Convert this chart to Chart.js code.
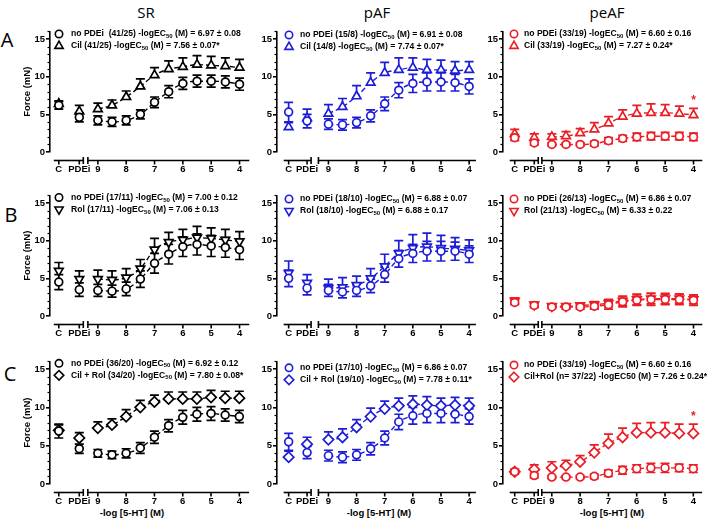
<!DOCTYPE html>
<html><head><meta charset="utf-8">
<script src="https://cdn.jsdelivr.net/npm/chart.js@4.4.1/dist/chart.umd.min.js"></script>
<style>
html,body{margin:0;padding:0;background:#fff}
body{width:709px;height:521px;position:relative;overflow:hidden;font-family:"Liberation Sans",Arial,sans-serif}
canvas{position:absolute}
.t{position:absolute;color:#000;white-space:nowrap;line-height:1;transform:translate(-50%,-50%)}
.h{font-family:"Open Sans","Liberation Sans",sans-serif;font-size:15px}
.r{font-family:"Open Sans","Liberation Sans",sans-serif;font-size:20px}
.xt{font-family:"Liberation Sans",Arial,sans-serif;font-size:9.5px;font-weight:bold}
</style></head><body>
<div class="t h" style="left:146px;top:12px">SR</div>
<div class="t h" style="left:377px;top:12px">pAF</div>
<div class="t h" style="left:607px;top:12px">peAF</div>
<div class="t r" style="left:7px;top:40px">A</div>
<div class="t r" style="left:11px;top:215px">B</div>
<div class="t r" style="left:10px;top:374px">C</div>
<div class="t xt" style="left:132px;top:513px">-log [5-HT] (M)</div>
<div class="t xt" style="left:379px;top:513px">-log [5-HT] (M)</div>
<div class="t xt" style="left:612px;top:513px">-log [5-HT] (M)</div>
<script>
// ---------- data ----------
const xTickLabels = ['C', 'PDEi', '9', '8', '7', '6', '5', '4'];
const logDoses = [9, 8.5, 8, 7.5, 7, 6.5, 6, 5.5, 5, 4.5, 4];
const majorDoses = [9, 8, 7, 6, 5, 4];
const yTicks = [0, 5, 10, 15];
// each series: [C, PDEi, 9, 8.5, 8, 7.5, 7, 6.5, 6, 5.5, 5, 4.5, 4]

// Row A (Cil)
const srA_none     = [6.2, 4.6, 4.2, 4.0, 4.2, 5.0, 6.6, 8.0, 9.1, 9.4, 9.4, 9.3, 9.0];
const srA_noneSem  = [0.5, 0.6, 0.6, 0.6, 0.6, 0.6, 0.7, 0.8, 0.8, 0.8, 0.8, 0.8, 0.8];
const srA_cil      = [6.4, 5.4, 5.7, 6.2, 7.3, 8.7, 10.2, 11.0, 11.3, 11.6, 11.5, 11.4, 11.2];
const srA_cilSem   = [0.4, 0.8, 0.8, 0.7, 0.8, 1.0, 1.0, 1.1, 1.2, 1.2, 1.2, 1.1, 1.1];
const pafA_none    = [5.3, 4.1, 3.7, 3.6, 3.9, 4.8, 6.4, 8.2, 9.1, 9.3, 9.3, 9.2, 8.7];
const pafA_noneSem = [1.3, 0.9, 0.7, 0.7, 0.7, 0.8, 0.9, 1.0, 1.2, 1.2, 1.2, 1.1, 1.0];
const pafA_cil     = [3.3, 4.5, 5.1, 6.0, 7.4, 9.2, 10.5, 10.9, 11.2, 10.9, 10.9, 10.8, 10.9];
const pafA_cilSem  = [0.6, 1.2, 1.2, 1.1, 1.4, 1.3, 1.4, 1.6, 1.3, 1.4, 1.3, 1.2, 1.1];
const peafA_none   = [1.9, 1.2, 1.0, 1.0, 1.0, 1.1, 1.5, 1.8, 2.0, 2.1, 2.1, 2.1, 2.0];
const peafA_noneSem= [0.4, 0.3, 0.2, 0.2, 0.2, 0.3, 0.4, 0.4, 0.5, 0.5, 0.5, 0.5, 0.5];
const peafA_cil    = [2.4, 1.9, 2.0, 2.1, 2.5, 3.0, 3.8, 4.7, 5.1, 5.2, 5.2, 5.1, 4.9];
const peafA_cilSem = [0.6, 0.5, 0.4, 0.6, 0.6, 0.9, 0.9, 0.9, 1.1, 1.2, 1.1, 1.0, 0.9];

// Row B (Rol)
const srB_none     = [4.5, 3.5, 3.4, 3.3, 3.6, 4.9, 7.0, 8.2, 9.2, 9.5, 9.3, 9.1, 8.8];
const srB_noneSem  = [1.0, 0.9, 0.8, 0.8, 0.9, 1.1, 1.3, 1.3, 1.3, 1.4, 1.4, 1.3, 1.3];
const srB_rol      = [6.0, 4.9, 4.9, 4.8, 5.1, 6.3, 8.8, 9.8, 10.1, 10.4, 10.3, 10.1, 9.9];
const srB_rolSem   = [1.1, 1.1, 1.2, 1.2, 1.2, 1.2, 1.5, 1.3, 1.4, 1.5, 1.4, 1.4, 1.3];
const pafB_none    = [5.0, 3.7, 3.4, 3.2, 3.4, 4.0, 5.5, 7.6, 8.3, 8.6, 8.6, 8.6, 8.2];
const pafB_noneSem = [1.1, 0.9, 0.8, 0.8, 0.8, 0.9, 1.0, 1.1, 1.2, 1.3, 1.3, 1.2, 1.1];
const pafB_rol     = [5.7, 4.4, 3.7, 3.8, 4.1, 5.0, 6.6, 8.3, 9.0, 9.2, 9.0, 8.9, 8.7];
const pafB_rolSem  = [1.6, 1.1, 1.2, 1.3, 1.2, 1.3, 1.6, 1.7, 1.8, 1.8, 1.7, 1.5, 1.4];
const peafB_none   = [1.8, 1.4, 1.2, 1.2, 1.2, 1.3, 1.5, 1.9, 2.1, 2.2, 2.2, 2.2, 2.1];
const peafB_noneSem= [0.3, 0.3, 0.2, 0.3, 0.3, 0.4, 0.6, 0.7, 0.7, 0.8, 0.7, 0.7, 0.7];
const peafB_rol    = [2.0, 1.5, 1.3, 1.3, 1.4, 1.5, 1.7, 2.0, 2.2, 2.3, 2.3, 2.3, 2.2];
const peafB_rolSem = [0.4, 0.3, 0.2, 0.3, 0.3, 0.4, 0.5, 0.6, 0.7, 0.7, 0.7, 0.6, 0.6];

// Row C (Cil + Rol)
const srC_none     = [6.9, 4.6, 4.0, 3.8, 4.0, 4.7, 6.1, 7.6, 8.7, 9.1, 9.2, 9.0, 8.8];
const srC_noneSem  = [0.9, 0.6, 0.5, 0.5, 0.6, 0.7, 0.8, 0.8, 0.9, 0.9, 0.9, 0.8, 0.8];
const srC_cr       = [7.0, 6.0, 7.3, 7.7, 8.8, 10.0, 10.7, 11.1, 11.1, 11.1, 11.3, 11.2, 11.2];
const srC_crSem    = [0.7, 0.7, 0.8, 0.8, 0.9, 0.9, 0.9, 0.9, 0.9, 0.9, 0.9, 0.9, 0.9];
const pafC_none    = [5.5, 4.1, 3.7, 3.5, 3.8, 4.6, 6.0, 8.1, 8.9, 9.2, 9.2, 9.1, 8.8];
const pafC_noneSem = [1.1, 0.8, 0.7, 0.7, 0.7, 0.8, 0.9, 1.0, 1.1, 1.2, 1.2, 1.1, 1.0];
const pafC_cr      = [3.5, 5.2, 5.8, 6.1, 7.4, 8.8, 9.8, 10.2, 10.4, 10.3, 10.2, 10.3, 10.2];
const pafC_crSem   = [0.8, 0.9, 1.0, 1.1, 1.0, 1.1, 1.0, 1.0, 1.1, 1.1, 1.0, 1.0, 1.0];
const peafC_none   = [1.6, 1.1, 0.9, 0.9, 0.9, 1.0, 1.4, 1.8, 2.0, 2.1, 2.1, 2.1, 2.0];
const peafC_noneSem= [0.3, 0.3, 0.2, 0.2, 0.2, 0.3, 0.4, 0.5, 0.5, 0.6, 0.6, 0.5, 0.5];
const peafC_cr     = [1.6, 1.9, 2.1, 2.4, 2.9, 4.1, 5.3, 6.1, 6.7, 6.7, 6.7, 6.6, 6.6];
const peafC_crSem  = [0.3, 0.6, 0.8, 0.7, 0.8, 1.0, 1.2, 1.2, 1.2, 1.3, 1.3, 1.2, 1.2];

// legend texts ({..} = subscript)
const legA_SR   = ['no PDEi  (41/25) -logEC{50} (M) = 6.97 \u00b1 0.08', 'Cil (41/25) -logEC{50} (M) = 7.56 \u00b1 0.07*'];
const legA_pAF  = ['no PDEi (15/8) -logEC{50} (M) = 6.91 \u00b1 0.08', 'Cil (14/8) -logEC{50} (M) = 7.74 \u00b1 0.07*'];
const legA_peAF = ['no PDEi (33/19) -logEC{50} (M) = 6.60 \u00b1 0.16', 'Cil (33/19) -logEC{50} (M) = 7.27 \u00b1 0.24*'];
const legB_SR   = ['no PDEi (17/11) -logEC{50} (M) = 7.00 \u00b1 0.12', 'Rol (17/11) -logEC{50} (M) = 7.06 \u00b1 0.13'];
const legB_pAF  = ['no PDEi (18/10) -logEC{50} (M) = 6.88 \u00b1 0.07', 'Rol (18/10) -logEC{50} (M) = 6.88 \u00b1 0.17'];
const legB_peAF = ['no PDEi (26/13) -logEC{50} (M) = 6.86 \u00b1 0.07', 'Rol (21/13) -logEC{50} (M) = 6.33 \u00b1 0.22'];
const legC_SR   = ['no PDEi (36/20) -logEC{50} (M) = 6.92 \u00b1 0.12', 'Cil + Rol (34/20) -logEC{50} (M) = 7.80 \u00b1 0.08*'];
const legC_pAF  = ['no PDEi (17/10) -logEC{50} (M) = 6.86 \u00b1 0.07', 'Cil + Rol (19/10) -logEC{50} (M) = 7.78 \u00b1 0.11*'];
const legC_peAF = ['no PDEi (33/19) -logEC{50} (M) = 6.60 \u00b1 0.16', 'Cil+Rol (n= 37/22) -logEC50 (M) = 7.26 \u00b1 0.24*'];

// ---------- layout / style ----------
const COLORS = ['#000000', '#1d1dd8', '#ec1c24'];
const COLS = [
  {left: 0,   w: 256, axisX: 50,  x9: 99,  x4: 244, xC: 59,  xP: 80,  legX: 9,  txtX: 21},
  {left: 238, w: 246, axisX: 277, x9: 330, x4: 475, xC: 289, xP: 308, legX: 12, txtX: 23},
  {left: 468, w: 241, axisX: 503, x9: 553, x4: 698, xC: 515, xP: 535, legX: 11, txtX: 21}
];
const ROWS = [
  {top: 22,  h: 155, y0: 152, y15: 39},
  {top: 185, h: 155, y0: 316, y15: 203},
  {top: 350, h: 171, y0: 484, y15: 369}
];
const LEG_DY = [[2.5, 3.5, 2.5], [2, 3.5, 3.5], [2, 6.5, 3.7]];
const SHAPES = {
  circle:  {pointStyle: 'circle',   rotation: 0,   radius: 3.9},
  triUp:   {pointStyle: 'triangle', rotation: 0,   radius: 5},
  triDown: {pointStyle: 'triangle', rotation: 180, radius: 5},
  diamond: {pointStyle: 'rectRot',  rotation: 0,   radius: 5.2}
};

const panels = [
  {row: 0, col: 0, star: -1, series: [
    {mean: srA_none, sem: srA_noneSem, shape: 'circle', dir: 'both', label: legA_SR[0]},
    {mean: srA_cil, sem: srA_cilSem, shape: 'triUp', dir: 'up', label: legA_SR[1]}]},
  {row: 0, col: 1, star: -1, series: [
    {mean: pafA_none, sem: pafA_noneSem, shape: 'circle', dir: 'both', label: legA_pAF[0]},
    {mean: pafA_cil, sem: pafA_cilSem, shape: 'triUp', dir: 'up', label: legA_pAF[1]}]},
  {row: 0, col: 2, star: 1, series: [
    {mean: peafA_none, sem: peafA_noneSem, shape: 'circle', dir: 'both', label: legA_peAF[0]},
    {mean: peafA_cil, sem: peafA_cilSem, shape: 'triUp', dir: 'up', label: legA_peAF[1]}]},
  {row: 1, col: 0, star: -1, series: [
    {mean: srB_none, sem: srB_noneSem, shape: 'circle', dir: 'both', label: legB_SR[0]},
    {mean: srB_rol, sem: srB_rolSem, shape: 'triDown', dir: 'up', label: legB_SR[1]}]},
  {row: 1, col: 1, star: -1, series: [
    {mean: pafB_none, sem: pafB_noneSem, shape: 'circle', dir: 'both', label: legB_pAF[0]},
    {mean: pafB_rol, sem: pafB_rolSem, shape: 'triDown', dir: 'up', label: legB_pAF[1]}]},
  {row: 1, col: 2, star: -1, series: [
    {mean: peafB_none, sem: peafB_noneSem, shape: 'circle', dir: 'both', label: legB_peAF[0]},
    {mean: peafB_rol, sem: peafB_rolSem, shape: 'triDown', dir: 'both', label: legB_peAF[1]}]},
  {row: 2, col: 0, star: -1, series: [
    {mean: srC_none, sem: srC_noneSem, shape: 'circle', dir: 'both', label: legC_SR[0]},
    {mean: srC_cr, sem: srC_crSem, shape: 'diamond', dir: 'up', label: legC_SR[1]}]},
  {row: 2, col: 1, star: -1, series: [
    {mean: pafC_none, sem: pafC_noneSem, shape: 'circle', dir: 'both', label: legC_pAF[0]},
    {mean: pafC_cr, sem: pafC_crSem, shape: 'diamond', dir: 'up', label: legC_pAF[1]}]},
  {row: 2, col: 2, star: 1, series: [
    {mean: peafC_none, sem: peafC_noneSem, shape: 'circle', dir: 'both', label: legC_peAF[0]},
    {mean: peafC_cr, sem: peafC_crSem, shape: 'diamond', dir: 'up', label: legC_peAF[1]}]}
];

Chart.defaults.font.family = '"Liberation Sans", Arial, sans-serif';
Chart.defaults.color = '#000';

const MAINFONT = 'bold 8.6px "Liberation Sans", Arial, sans-serif';
const SUBFONT = 'bold 6px "Liberation Sans", Arial, sans-serif';

function drawMarker(ctx, shape, x, y, color) {
  ctx.save();
  ctx.strokeStyle = color; ctx.fillStyle = '#fff'; ctx.lineWidth = 1.6;
  ctx.beginPath();
  if (shape === 'circle') {
    ctx.arc(x, y, 3.7, 0, Math.PI * 2);
  } else if (shape === 'triUp' || shape === 'triDown') {
    const r = 4.8, s = shape === 'triUp' ? 1 : -1;
    ctx.moveTo(x, y - s * r);
    ctx.lineTo(x + r * 0.866, y + s * r / 2);
    ctx.lineTo(x - r * 0.866, y + s * r / 2);
    ctx.closePath();
  } else {
    const r = 4.8;
    ctx.moveTo(x, y - r); ctx.lineTo(x + r, y); ctx.lineTo(x, y + r); ctx.lineTo(x - r, y);
    ctx.closePath();
  }
  ctx.fill(); ctx.stroke();
  ctx.restore();
}

function drawRich(ctx, str, x, y) {
  const parts = str.split(/(\{[^}]*\})/);
  for (const part of parts) {
    if (!part) continue;
    if (part[0] === '{') {
      const t = part.slice(1, -1);
      ctx.font = SUBFONT; ctx.fillText(t, x, y + 2.5);
      x += ctx.measureText(t).width;
    } else {
      ctx.font = MAINFONT; ctx.fillText(part, x, y);
      x += ctx.measureText(part).width;
    }
  }
}

function makeChart(p) {
  const G = COLS[p.col], R = ROWS[p.row];
  const cv = document.createElement('canvas');
  cv.width = G.w; cv.height = R.h;
  cv.style.left = G.left + 'px'; cv.style.top = R.top + 'px';
  cv.style.width = G.w + 'px'; cv.style.height = R.h + 'px';
  document.body.appendChild(cv);

  const ppx = (G.x4 - G.x9) / 5;
  const right = G.w - 2;
  const ax = G.axisX - G.left, x9 = G.x9 - G.left, x4 = G.x4 - G.left;
  const xMax = 9 + (x9 - ax) / ppx, xMin = 4 - (right - x4) / ppx;
  const posC = 9 + (G.x9 - G.xC) / ppx, posP = 9 + (G.x9 - G.xP) / ppx;
  const ppy = (R.y0 - R.y15) / 15, yMax = 16;
  const padTop = (R.y0 - yMax * ppy) - R.top;
  const color = COLORS[p.col];

  const datasets = [];
  p.series.forEach((s, si) => {
    const sh = SHAPES[s.shape];
    const common = {
      pointStyle: sh.pointStyle, pointRotation: sh.rotation, pointRadius: sh.radius, pointHoverRadius: sh.radius,
      pointBorderWidth: 1.7, pointBorderColor: color, pointBackgroundColor: '#fff',
      borderColor: color, backgroundColor: '#fff', dir: s.dir
    };
    datasets.push(Object.assign({}, common, {
      data: [{x: posC, y: s.mean[0]}, {x: posP, y: s.mean[1]}], sem: s.sem.slice(0, 2), showLine: false
    }));
    datasets.push(Object.assign({}, common, {
      data: logDoses.map((d, i) => ({x: d, y: s.mean[i + 2]})), sem: s.sem.slice(2),
      showLine: true, borderWidth: 1.4, borderDash: [5, 3], cubicInterpolationMode: 'monotone'
    }));
  });

  const extras = {
    id: 'extras',
    beforeDatasetsDraw(chart) {
      const ctx = chart.ctx, ys = chart.scales.y;
      ctx.save();
      ctx.strokeStyle = color; ctx.lineWidth = 1.7;
      chart.data.datasets.forEach((ds, di) => {
        const meta = chart.getDatasetMeta(di);
        meta.data.forEach((pt, i) => {
          const m = ds.data[i].y, e = ds.sem[i];
          const yt = ys.getPixelForValue(m + e), yb = ys.getPixelForValue(m - e);
          ctx.beginPath();
          ctx.moveTo(pt.x, pt.y); ctx.lineTo(pt.x, yt);
          ctx.moveTo(pt.x - 4.5, yt); ctx.lineTo(pt.x + 4.5, yt);
          if (ds.dir === 'both') {
            ctx.moveTo(pt.x, pt.y); ctx.lineTo(pt.x, yb);
            ctx.moveTo(pt.x - 4.5, yb); ctx.lineTo(pt.x + 4.5, yb);
          }
          ctx.stroke();
        });
      });
      ctx.restore();
    },
    afterDraw(chart) {
      const ctx = chart.ctx, ca = chart.chartArea, xs = chart.scales.x, ys = chart.scales.y;
      ctx.save();
      // y minor ticks
      ctx.strokeStyle = '#000'; ctx.lineWidth = 1.2;
      for (let v = 1; v <= yMax; v++) {
        if (v % 5 === 0) continue;
        const py = Math.round(ys.getPixelForValue(v)) + 0.5;
        ctx.beginPath(); ctx.moveTo(ca.left - 2.5, py); ctx.lineTo(ca.left, py); ctx.stroke();
      }
      // broken x axis
      const yl = Math.round(ca.bottom + 8) + 0.5;
      ctx.lineWidth = 1.6;
      const segs = [[xs.getPixelForValue(posC) - 5, xs.getPixelForValue(posP) + 4],
                    [xs.getPixelForValue(9) - 10, ca.right]];
      segs.forEach(([a, b], k) => {
        ctx.beginPath(); ctx.moveTo(a, yl); ctx.lineTo(b, yl); ctx.stroke();
        if (k === 0) { ctx.beginPath(); ctx.moveTo(b, yl - 3.5); ctx.lineTo(b, yl + 3.5); ctx.stroke(); }
        if (k === 1) { ctx.beginPath(); ctx.moveTo(a, yl - 3.5); ctx.lineTo(a, yl + 3.5); ctx.stroke(); }
      });
      [posC, posP].concat(majorDoses).forEach(v => {
        const px = xs.getPixelForValue(v);
        ctx.beginPath(); ctx.moveTo(px, yl); ctx.lineTo(px, yl + 4); ctx.stroke();
      });
      // legend
      ctx.textAlign = 'left'; ctx.textBaseline = 'middle'; ctx.fillStyle = '#000';
      p.series.forEach((s, k) => {
        const ly = ca.top + LEG_DY[p.row][p.col] + k * 12;
        drawMarker(ctx, s.shape, ca.left + G.legX, ly, color);
        ctx.fillStyle = '#000';
        drawRich(ctx, s.label, ca.left + G.txtX, ly);
      });
      // significance star
      if (p.star >= 0) {
        const di = p.star * 2 + 1, ds = chart.data.datasets[di];
        const last = ds.data.length - 1;
        const pt = chart.getDatasetMeta(di).data[last];
        const yc = ys.getPixelForValue(ds.data[last].y + ds.sem[last]);
        ctx.fillStyle = color; ctx.textAlign = 'center';
        ctx.font = 'bold 12px "Liberation Sans", Arial, sans-serif';
        ctx.fillText('*', pt.x, yc - 8);
      }
      ctx.restore();
    }
  };

  new Chart(cv, {
    type: 'scatter',
    data: {datasets},
    options: {
      responsive: false, animation: false, devicePixelRatio: 1, events: [],
      layout: {padding: {top: padTop, left: 0, right: 2, bottom: 0}},
      plugins: {legend: {display: false}, tooltip: {enabled: false}},
      scales: {
        x: {
          type: 'linear', reverse: true, min: xMin, max: xMax,
          afterBuildTicks: sc => { sc.ticks = [posC, posP].concat(majorDoses).map(v => ({value: v})); },
          afterFit: sc => { sc.height = R.h - (R.y0 - R.top); },
          ticks: {autoSkip: false, maxRotation: 0, padding: 12, font: {size: 9.5, weight: 'bold'}, color: '#000',
                  callback: (v, i) => xTickLabels[i]},
          grid: {display: false, drawTicks: false}, border: {display: false}
        },
        y: {
          type: 'linear', min: 0, max: yMax,
          afterBuildTicks: sc => { sc.ticks = yTicks.map(v => ({value: v})); },
          afterFit: sc => { sc.width = ax; },
          ticks: {padding: 1, font: {size: 9.5, weight: 'bold'}, color: '#000'},
          grid: {drawOnChartArea: false, drawTicks: true, tickLength: 4, color: '#000', lineWidth: 1.6},
          border: {display: true, color: '#000', width: 1.6},
          title: {display: p.col === 0, text: 'Force (mN)', color: '#000',
                  font: {size: 9.5, weight: 'bold'}, padding: {top: 22, bottom: 0}}
        }
      }
    },
    plugins: [extras]
  });
}

panels.forEach(makeChart);
</script>
</body></html>
